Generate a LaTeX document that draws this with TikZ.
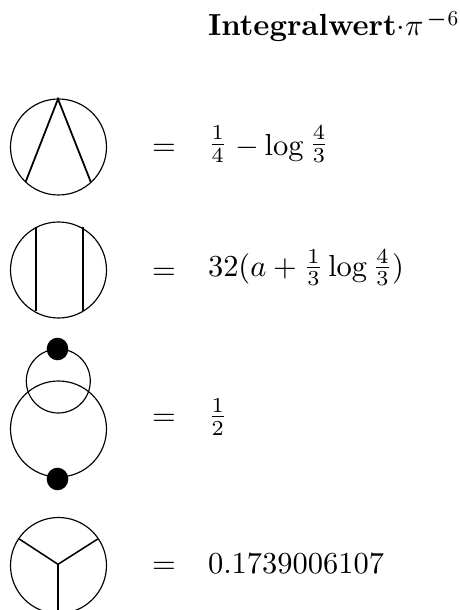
\documentclass[tikz,border=0pt]{standalone}
\usepackage{amsmath}
\usepackage{graphicx}
\usetikzlibrary{shapes.geometric}
\tikzset{
  px/.style={x=0.328pt,y=-0.328pt},
  ring/.style={draw=black,line width=0.38pt,circle,inner sep=0pt,outer sep=0pt,minimum size=#1*0.328pt},
  prop/.style={line width=0.58pt,draw=black},
  dotblob/.style={fill=black,ellipse,inner sep=0pt,minimum width=7.1pt,minimum height=7.4pt},
  txt/.style={anchor=base west,inner sep=0pt,outer sep=0pt},
}
\begin{document}
\begin{tikzpicture}[px]
\useasboundingbox (0,0) rectangle (459,610);
\begin{scope}
\clip (0,0) rectangle (459,610);
% first diagram
\node[ring=96] (c1) at (58.5,147) {};
\coordinate (a1) at (58,99);
\coordinate (a2) at (25.7,181.7);
\coordinate (a3) at (90.7,181.7);
\draw[prop] (a2) -- (a1) -- (a3);
% second diagram
\node[ring=96] (c2) at (58.5,270) {};
\coordinate (b1) at (35.7,227);
\coordinate (b2) at (35.7,311);
\coordinate (b3) at (83,227);
\coordinate (b4) at (83,311);
\draw[prop] (b1) -- (b2);
\draw[prop] (b3) -- (b4);
% third diagram
\node[ring=96] (c3) at (58.5,429) {};
\node[ring=64] (c3s) at (58.3,381) {};
\node[dotblob] (d1) at (57.5,349) {};
\node[dotblob] (d2) at (57.5,479) {};
% fourth diagram
\node[ring=96] (c4) at (58.5,565.5) {};
\coordinate (m) at (58,564.3);
\coordinate (s1) at (58,612);
\coordinate (s2) at (19.3,539);
\coordinate (s3) at (97.7,539);
\draw[prop] (m) -- (s1);
\draw[line width=0.5pt] (m) -- (s2);
\draw[line width=0.5pt] (m) -- (s3);
\end{scope}
% texts
\node[txt] (title) at (208,36) {\textbf{Integralwert}$\cdot\pi$\hspace{1pt}\raisebox{3.4pt}{\scalebox{0.72}{$\boldsymbol{-}$}}\hspace{0.4pt}\raisebox{3.6pt}{\scalebox{0.7}{$6$}}};
\node[txt] (e1) at (152,155.3) {$=$};
\node[txt] (v1) at (208,155.3) {\raisebox{1.1pt}{$\frac{1}{4}$}$\;-\log$\raisebox{1.1pt}{$\,\frac{4}{3}$}};
\node[txt] (e2) at (152,279.5) {$=$};
\node[txt] (v2) at (208,277) {$32(a+{}$\raisebox{0.5pt}{$\frac{1}{3}$}$\,\log$\raisebox{0.5pt}{$\,\frac{4}{3}$}$)$};
\node[txt] (e3) at (152,425) {$=$};
\node[txt] (v3) at (208,424.5) {$\frac{1}{2}$};
\node[txt] (e4) at (152,573.3) {$=$};
\node[txt] (v4) at (208,573.3) {$0.1739006107$};
\end{tikzpicture}
\end{document}
